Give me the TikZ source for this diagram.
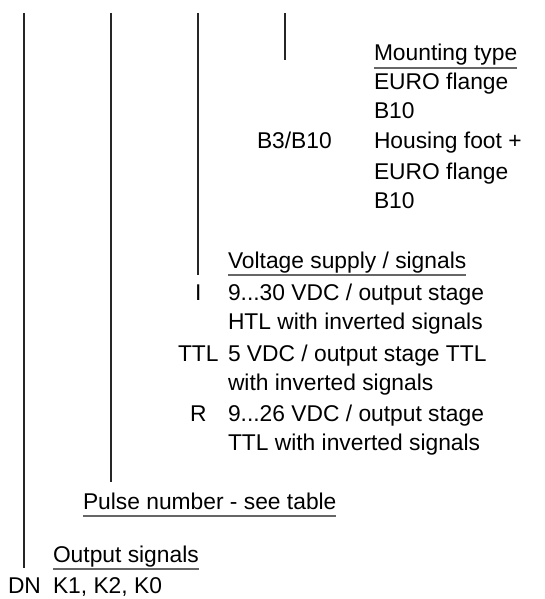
\documentclass[tikz,border=0pt]{standalone}
\usepackage{fontspec}
\setmainfont{Liberation Sans}
\begin{document}
\begin{tikzpicture}[x=0.75pt,y=-0.75pt,
  txt/.style={anchor=base west,inner sep=0pt,outer sep=0pt,font=\fontsize{17.1pt}{20pt}\selectfont,text=black},
  vline/.style={draw=black!85,line width=0.8pt},
  uline/.style={draw=black!60,line width=1pt}]
\useasboundingbox (0,0) rectangle (544,599);
% vertical lines
\coordinate (l1t) at (24,13);  \coordinate (l1b) at (24,568);
\coordinate (l2t) at (111,13); \coordinate (l2b) at (111,482);
\coordinate (l3t) at (198,13); \coordinate (l3b) at (198,275);
\coordinate (l4t) at (285,13); \coordinate (l4b) at (285,60);
\draw[vline] (l1t) -- (l1b);
\draw[vline] (l2t) -- (l2b);
\draw[vline] (l3t) -- (l3b);
\draw[vline] (l4t) -- (l4b);
% mounting type
\node[txt] (mt) at (374,61) {Mounting type};
\node[txt] (mt1) at (374,90) {EURO flange};
\node[txt] (mt2) at (374,119) {B10};
\node[txt] (b3) at (257,148) {B3/B10};
\node[txt] (mt3) at (374,148) {Housing foot +};
\node[txt] (mt4) at (374,179) {EURO flange};
\node[txt] (mt5) at (374,208) {B10};
% voltage supply
\node[txt] (vs) at (228,268) {Voltage supply / signals};
\node[txt] (kI) at (195,300) {I};
\node[txt] (vs1) at (228,300) {9...30 VDC / output stage};
\node[txt] (vs2) at (228,329) {HTL with inverted signals};
\node[txt] (kT) at (178,361) {TTL};
\node[txt] (vs3) at (228,361) {5 VDC / output stage TTL};
\node[txt] (vs4) at (228,390) {with inverted signals};
\node[txt] (kR) at (190,421) {R};
\node[txt] (vs5) at (228,421) {9...26 VDC / output stage};
\node[txt] (vs6) at (228,450) {TTL with inverted signals};
% pulse number
\node[txt] (pn) at (83,509) {Pulse number - see table};
% output signals
\node[txt] (os) at (53,562) {Output signals};
\node[txt] (dn) at (8,593) {DN};
\node[txt] (os1) at (53,593) {K1, K2, K0};
% underlines
\foreach \n in {mt,vs,pn,os}{
  \draw[uline] ([yshift=-5.25pt]\n.base west) -- ([yshift=-5.25pt]\n.base east);
}
\end{tikzpicture}
\end{document}
